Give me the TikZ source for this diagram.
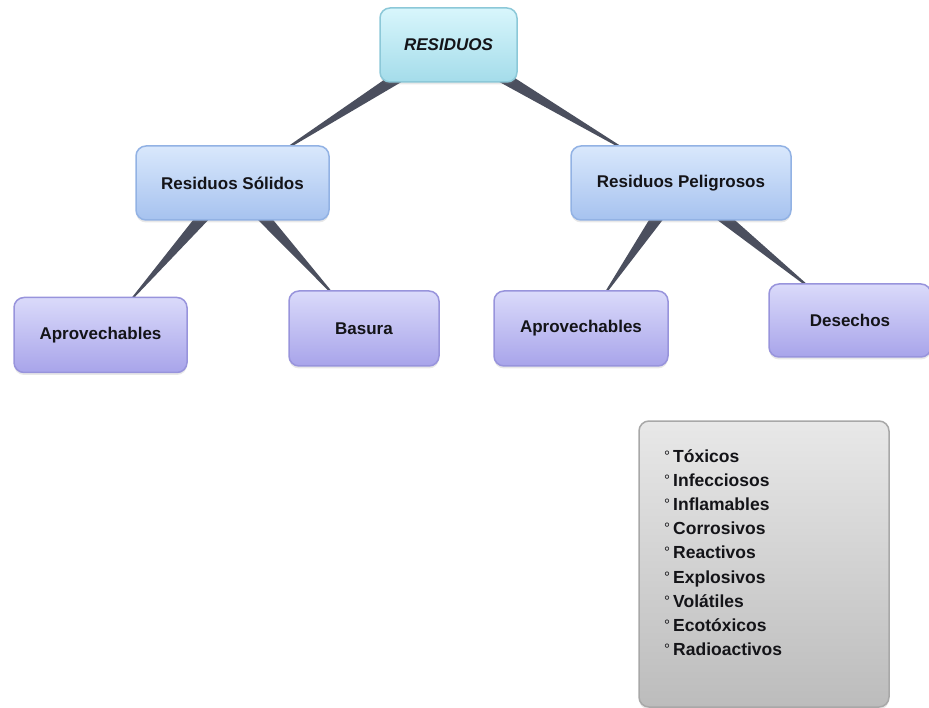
\documentclass[tikz,border=0pt]{standalone}
\usepackage{fontspec}
\setmainfont{Liberation Sans}
\usetikzlibrary{calc,shadows}
\pgfdeclarelayer{bg}
\pgfsetlayers{bg,main}
\definecolor{roott}{HTML}{D8F6FC}
\definecolor{rootbot}{HTML}{A4DCEA}
\definecolor{rootd}{HTML}{8CC8D8}
\definecolor{midt}{HTML}{D9E8FC}
\definecolor{midbot}{HTML}{A6C2EF}
\definecolor{midd}{HTML}{92B2E4}
\definecolor{leaft}{HTML}{DADAFA}
\definecolor{leafbot}{HTML}{A8A4EA}
\definecolor{leafd}{HTML}{9894DC}
\definecolor{greyt}{HTML}{E8E8E8}
\definecolor{greybot}{HTML}{BCBCBC}
\definecolor{greyd}{HTML}{A8A8A8}
\definecolor{wedgec}{HTML}{4B4F5E}
\definecolor{txt}{HTML}{141418}
\tikzset{
  box/.style={rounded corners=10pt, line width=1.5pt, text=txt,
    font=\bfseries\fontsize{17}{20}\selectfont,
    drop shadow={opacity=0.18, shadow xshift=0pt, shadow yshift=-2.5pt}},
  rootbox/.style={box, draw=rootd, top color=roott, bottom color=rootbot,
    minimum width=137pt, minimum height=74pt, font=\bfseries\itshape\fontsize{17}{20}\selectfont},
  midbox/.style={box, draw=midd, top color=midt, bottom color=midbot, minimum height=74pt},
  leafbox/.style={box, draw=leafd, top color=leaft, bottom color=leafbot, minimum height=75pt},
  greybox/.style={box, draw=greyd, top color=greyt, bottom color=greybot,
    minimum width=250pt, minimum height=286pt},
  listtext/.style={align=left, text=txt, inner sep=0pt, font=\bfseries\fontsize{17.5}{24.2}\selectfont},
  wedge/.style={fill=wedgec}
}
\newcommand{\dg}{{\mdseries\fontsize{15}{15}\selectfont\raisebox{1pt}{°}}\kern3pt}
\begin{document}
\begin{tikzpicture}[x=1pt,y=-1pt]
\useasboundingbox (0,0) rectangle (929,708);
\node[rootbox] (root) at (448.5,45) {RESIDUOS};
\node[midbox, minimum width=193pt] (sol) at (232.5,183) {Residuos Sólidos};
\node[midbox, minimum width=220pt] (pel) at (681,183) {Residuos Peligrosos};
\node[leafbox, minimum width=173pt] (ap1) at (100.5,335) {Aprovechables};
\node[leafbox, minimum width=150pt] (bas) at (364,328.5) {Basura};
\node[leafbox, minimum width=174pt] (ap2) at (581,328.5) {Aprovechables};
\node[leafbox, minimum width=162pt, minimum height=73pt] (des) at (850,320.5) {Desechos};
\node[greybox] (grey) at (764,564) {};
\node[listtext, anchor=north west] (list) at (664,449) {\dg Tóxicos\\ \dg Infecciosos\\ \dg Inflamables\\ \dg Corrosivos\\ \dg Reactivos\\ \dg Explosivos\\ \dg Volátiles\\ \dg Ecotóxicos\\ \dg Radioactivos};
\begin{pgfonlayer}{bg}
\foreach \p/\c in {root/sol, root/pel, sol/ap1, sol/bas, pel/ap2, pel/des}{
  \fill[wedge] ($(\p)!8pt!90:(\c)$) -- ($(\p)!8pt!-90:(\c)$) -- ($(\p)!0.85!(\c)$) -- cycle;
}
\end{pgfonlayer}
\end{tikzpicture}
\end{document}
